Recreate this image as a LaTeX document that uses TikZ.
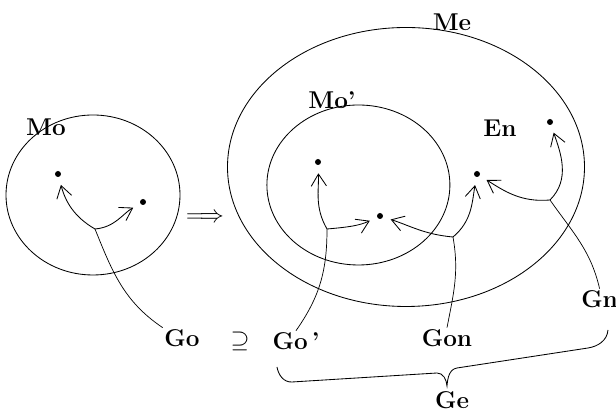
\documentclass[tikz,border=0pt]{standalone}
\usetikzlibrary{arrows.meta, positioning, shapes.geometric, calc}

\begin{document}
\begin{tikzpicture}[
  setnode/.style={ellipse, draw, line width=0.6pt, inner sep=0pt},
  dotnode/.style={circle, fill, inner sep=0pt, minimum size=1.5mm},
  lbl/.style={font=\LARGE\bfseries, inner sep=1pt},
  gmap/.style={-{Straight Barb[length=3mm, width=3.8mm]}, line width=0.6pt, shorten >=2mm},
  lead/.style={line width=0.5pt}
]
  \useasboundingbox (0,0) rectangle (15.4,10.4);

  % Sets
  \node[setnode, minimum width=4.35cm, minimum height=4cm] (mo) at (2.325,5.525) {};
  \node[setnode, minimum width=8.925cm, minimum height=6.975cm] (me) at (10.15,6.225) {};
  \node[setnode, minimum width=4.575cm, minimum height=4cm] (mop) at (8.96,5.775) {};

  % Set labels
  \node[lbl] (molbl) at (1.15,7.225) {Mo};
  \node[lbl] (melbl) at (11.3,9.85) {Me};
  \node[lbl] (moplbl) at (8.3,7.9) {Mo'};
  \node[lbl] (enlbl) at (12.5,7.2) {En};
  \node[lbl] (implies) at (5.125,4.95) {$\Longrightarrow$};

  % Elements
  \node[dotnode] (o1) at (1.45,6.05) {};
  \node[dotnode] (o2) at (3.575,5.35) {};
  \node[dotnode] (p1) at (7.95,6.35) {};
  \node[dotnode] (p2) at (9.5,5.0) {};
  \node[dotnode] (n1) at (11.925,6.05) {};
  \node[dotnode] (n2) at (13.75,7.35) {};

  % Graph labels
  \node[lbl] (golbl) at (4.55,1.95) {Go};
  \node[lbl] (supset) at (6.0,1.875) {$\supseteq$};
  \node[lbl] (goplbl) at (7.4,1.875) {Go\,'};
  \node[lbl] (gonlbl) at (11.175,1.95) {Gon};
  \node[lbl] (gnlbl) at (14.99,2.925) {Gn};
  \node[lbl] (gelbl) at (11.3,0.4) {Ge};

  % Junctions
  \coordinate (goj) at (2.375,4.675);
  \coordinate (gopj) at (8.175,4.675);
  \coordinate (gonj) at (11.325,4.475);
  \coordinate (gnj) at (13.75,5.4);

  % Go
  \draw[gmap] (goj) to[out=150, in=-75] (o1);
  \draw[gmap] (goj) to[out=5, in=-150] (o2);
  \draw[lead] (goj) to[out=-68, in=146] (golbl.north west);

  % Go'
  \draw[gmap] (gopj) to[out=120, in=-88] (p1);
  \draw[gmap] (gopj) to[out=5, in=-155] (p2);
  \draw[lead] (gopj) to[out=-90, in=55] (goplbl.north);

  % Gon
  \draw[gmap] (gonj) to[out=175, in=-18] (p2);
  \draw[gmap] (gonj) to[out=40, in=-100] (n1);
  \draw[lead] (gonj) to[out=-80, in=79] (gonlbl.north);

  % Gn
  \draw[gmap] (gnj) to[out=185, in=-32] (n1);
  \draw[gmap] (gnj) to[out=45, in=-71] (n2);
  \draw[lead] (gnj) to[out=-55, in=103] (gnlbl.north);

  % Brace
  \draw[line width=0.6pt] (6.925,1.225) to[out=-80, in=183] (7.3,0.85) -- (10.925,1.075)
    to[out=0, in=95] (11.175,0.75) to[out=85, in=190] (11.425,1.2) -- (14.7,1.7)
    to[out=9, in=-95] (15.2,2.15);

\end{tikzpicture}
\end{document}
